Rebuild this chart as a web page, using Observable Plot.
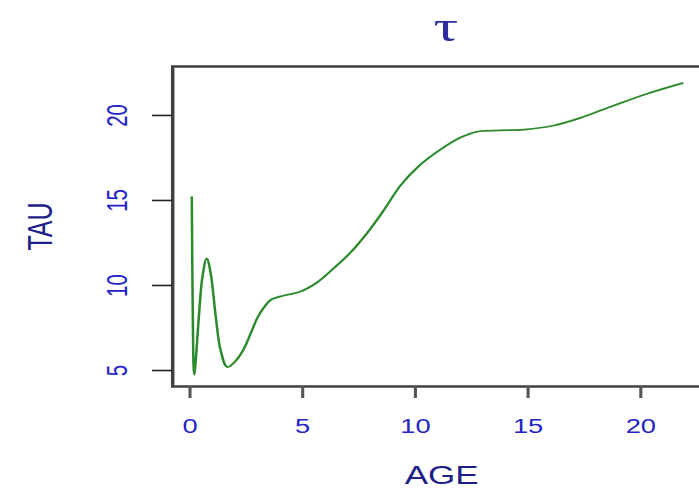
<!DOCTYPE html>
<html>
<head>
<meta charset="utf-8">
<script src="https://cdn.jsdelivr.net/npm/d3@7"></script>
<script src="https://cdn.jsdelivr.net/npm/@observablehq/plot@0.6"></script>
<style>
  html, body { margin: 0; padding: 0; background: #fff; overflow: hidden; width: 699px; height: 490px; }
  #wrap { transform: scaleX(1.4); transform-origin: 0 0; width: 518px; }
</style>
</head>
<body>
<div id="wrap"></div>
<script>
// Data
const ages = [0.08, 0.10, 0.13, 0.16, 0.19, 0.25, 0.40, 0.55, 0.74, 0.92, 1.14, 1.36, 1.66, 2.05, 2.40, 2.70, 2.99, 3.30, 3.58, 4.17, 4.91, 5.65, 6.39, 7.13, 7.87, 8.61, 9.35, 10.09, 11.12, 12.00, 12.75, 13.78, 14.82, 16.15, 17.33, 18.81, 20.29, 21.85];
const tau  = [15.2, 11.5, 7.5, 5.2, 4.75, 5.5, 8.3, 10.5, 11.6, 10.7, 8.2, 6.18, 5.2, 5.6, 6.3, 7.2, 8.1, 8.75, 9.15, 9.41, 9.65, 10.19, 11.03, 11.95, 13.1, 14.45, 15.9, 16.95, 18.0, 18.7, 19.05, 19.12, 19.17, 19.41, 19.86, 20.59, 21.28, 21.9];
const xTicks = [0, 5, 10, 15, 20];
const yTicks = [5, 10, 15, 20];
const titleText = "τ";
const xLabel = "AGE";
const yLabel = "TAU";

const rows = ages.map((a, i) => ({age: a, tau: tau[i]}));

const tickLabelColor = "#2424c8";
const axisTitleColor = "#1f1f8a";

const chart = Plot.plot({
  width: 517.14,
  height: 490,
  marginLeft: 122.86,
  marginRight: 10,
  marginTop: 66,
  marginBottom: 104,
  style: {fontFamily: "'Liberation Sans', Arial, Helvetica, sans-serif", background: "#fff"},
  x: {domain: [-0.768, 23.1]},
  y: {domain: [4.06, 22.88]},
  marks: [
    Plot.line(rows, {x: "age", y: "tau", stroke: "#2b8a2b", strokeWidth: 1.8, curve: "catmull-rom"}),
    Plot.frame({stroke: "#404040", strokeWidth: 2.5}),
    Plot.axisX({ticks: xTicks, tickSize: 12, tickPadding: 21, fontSize: 19.5, stroke: "#555", strokeWidth: 2.2, fill: tickLabelColor, label: null}),
    Plot.axisY({ticks: yTicks, tickSize: 14.3, tickPadding: 18, tickRotate: -90, fontSize: 20.5, stroke: "#222", strokeWidth: 1.6, fill: tickLabelColor, label: null}),
    Plot.text([xLabel], {frameAnchor: "bottom", dy: 98, lineAnchor: "bottom", fontSize: 25, fill: axisTitleColor}),
    Plot.text([yLabel], {frameAnchor: "left", dx: -86, rotate: -90, textAnchor: "middle", lineAnchor: "bottom", fontSize: 25, fill: axisTitleColor}),
    Plot.text([titleText], {frameAnchor: "top", dy: -25, dx: 3, lineAnchor: "bottom", fontSize: 44, fontFamily: "'Liberation Serif', 'DejaVu Serif', serif", fill: "#2c2c9c"})
  ]
});
document.getElementById("wrap").appendChild(chart);
</script>
</body>
</html>
